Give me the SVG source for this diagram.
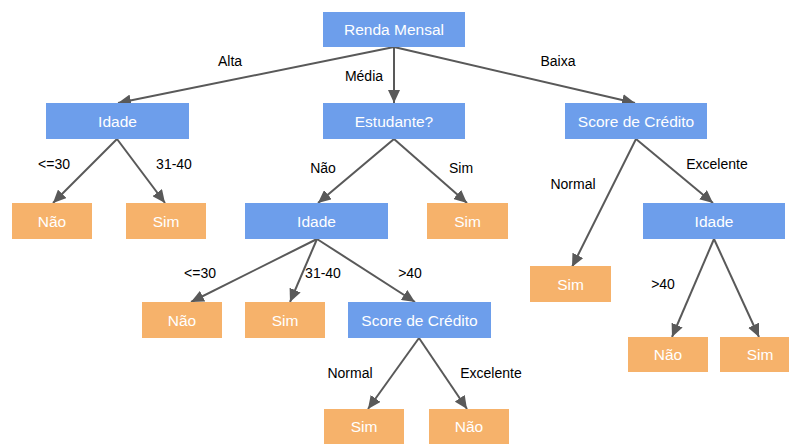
<svg xmlns="http://www.w3.org/2000/svg" width="789" height="444" viewBox="0 0 789 444">
<defs>
<marker id="ah" markerUnits="userSpaceOnUse" markerWidth="14" markerHeight="12" refX="13" refY="6" orient="auto">
<path d="M0,0 L13,6 L0,12 Z" fill="#595959"/>
</marker>
<style>
.d rect{fill:#6d9eeb;}
.l rect{fill:#f6b26b;}
.n text{fill:#fff;font-family:"Liberation Sans",Arial,sans-serif;font-size:15.5px;text-anchor:middle;}
.c line{stroke:#595959;stroke-width:2;marker-end:url(#ah);}
.c text{fill:#000;font-family:"Liberation Sans",Arial,sans-serif;font-size:14px;text-anchor:middle;}
</style>
</defs>
<rect width="789" height="444" fill="#fff"/>
<g class="c" id="connectors">
<line x1="394" y1="47" x2="118" y2="103"/>
<line x1="394" y1="47" x2="394" y2="103"/>
<line x1="394" y1="47" x2="635" y2="103"/>
<line x1="117" y1="139" x2="53" y2="203"/>
<line x1="117" y1="139" x2="165" y2="203"/>
<line x1="394" y1="139" x2="318" y2="203"/>
<line x1="394" y1="139" x2="467" y2="203"/>
<line x1="636" y1="139" x2="572" y2="267"/>
<line x1="636" y1="139" x2="713" y2="203"/>
<line x1="317" y1="239" x2="191" y2="302"/>
<line x1="317" y1="239" x2="290" y2="302"/>
<line x1="317" y1="239" x2="415" y2="302"/>
<line x1="714" y1="239" x2="672" y2="337"/>
<line x1="714" y1="239" x2="759" y2="337"/>
<line x1="419" y1="338" x2="368" y2="409"/>
<line x1="419" y1="338" x2="467" y2="409"/>
<text x="230" y="66">Alta</text>
<text x="364" y="81">Média</text>
<text x="558" y="66">Baixa</text>
<text x="54" y="169">&lt;=30</text>
<text x="174" y="169">31-40</text>
<text x="323" y="173">Não</text>
<text x="461" y="173">Sim</text>
<text x="573" y="189">Normal</text>
<text x="717" y="169">Excelente</text>
<text x="200" y="278">&lt;=30</text>
<text x="323" y="278">31-40</text>
<text x="410" y="278">&gt;40</text>
<text x="663" y="289">&gt;40</text>
<text x="350" y="378">Normal</text>
<text x="491" y="378">Excelente</text>
</g>
<g id="renda" class="n d"><rect x="323" y="12" width="142" height="35"/><text x="394" y="35">Renda Mensal</text></g>
<g id="idade1" class="n d"><rect x="46" y="103" width="143" height="36"/><text x="117.5" y="126.5">Idade</text></g>
<g id="estudante" class="n d"><rect x="323" y="103" width="142" height="36"/><text x="394" y="126.5">Estudante?</text></g>
<g id="score1" class="n d"><rect x="565" y="103" width="142" height="36"/><text x="636" y="126.5">Score de Crédito</text></g>
<g id="nao1" class="n l"><rect x="12" y="203" width="80" height="36"/><text x="52" y="226.5">Não</text></g>
<g id="sim1" class="n l"><rect x="126" y="203" width="80" height="36"/><text x="166" y="226.5">Sim</text></g>
<g id="idade2" class="n d"><rect x="245" y="203" width="143" height="36"/><text x="316.5" y="226.5">Idade</text></g>
<g id="sim2" class="n l"><rect x="427" y="203" width="81" height="36"/><text x="467.5" y="226.5">Sim</text></g>
<g id="idade3" class="n d"><rect x="643" y="203" width="142" height="36"/><text x="714" y="226.5">Idade</text></g>
<g id="sim3" class="n l"><rect x="530" y="266" width="81" height="36"/><text x="570.5" y="289.5">Sim</text></g>
<g id="nao2" class="n l"><rect x="142" y="302" width="80" height="36"/><text x="182" y="325.5">Não</text></g>
<g id="sim4" class="n l"><rect x="245" y="302" width="80" height="36"/><text x="285" y="325.5">Sim</text></g>
<g id="score2" class="n d"><rect x="348" y="302" width="143" height="36"/><text x="419.5" y="325.5">Score de Crédito</text></g>
<g id="nao3" class="n l"><rect x="628" y="337" width="80" height="35"/><text x="668" y="360">Não</text></g>
<g id="sim5" class="n l"><rect x="720" y="337" width="80" height="35"/><text x="760" y="360">Sim</text></g>
<g id="sim6" class="n l"><rect x="324" y="409" width="80" height="35"/><text x="364" y="432">Sim</text></g>
<g id="nao4" class="n l"><rect x="429" y="409" width="80" height="35"/><text x="469" y="432">Não</text></g>
</svg>
